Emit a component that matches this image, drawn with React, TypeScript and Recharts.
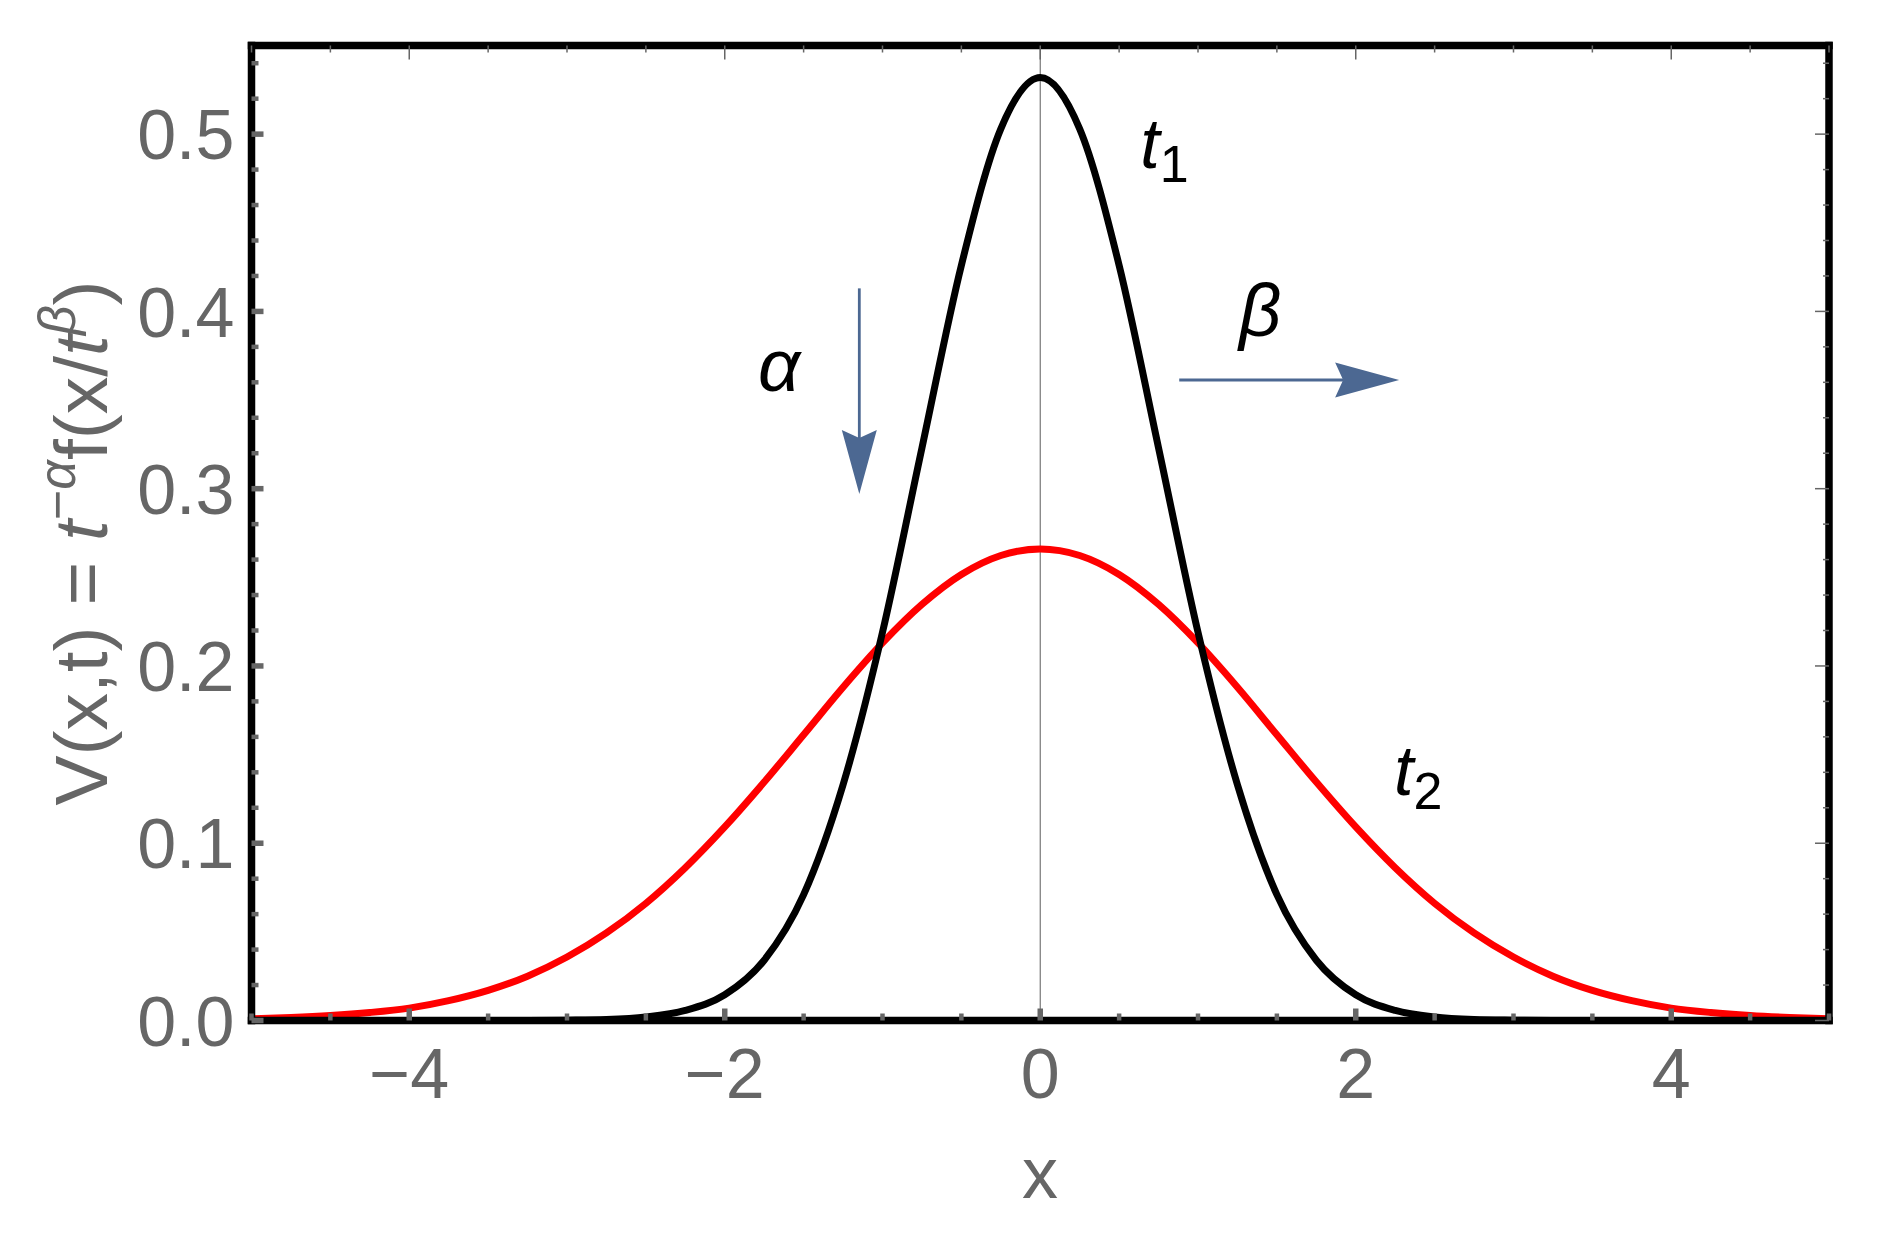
import React from "react";
import { LineChart, Line, XAxis, YAxis, ReferenceLine, ReferenceDot } from "recharts";

// V(x,t) profiles at two times

const xValues = [
  -5, -4.75, -4.5, -4.25, -4, -3.75, -3.5, -3.25, -3, -2.75, -2.5, -2.25, -2, -1.75, -1.5, -1.25, -1, -0.75, -0.5, -0.25,
  0, 0.25, 0.5, 0.75, 1, 1.25, 1.5, 1.75, 2, 2.25, 2.5, 2.75, 3, 3.25, 3.5, 3.75, 4, 4.25, 4.5, 4.75, 5,
];

// t1: narrow, tall profile (black)
const t1Values = [
  0, 0, 0, 0, 0, 0, 0, 0, 0.0002, 0.0006, 0.002, 0.0057, 0.0145, 0.034, 0.071, 0.133, 0.219, 0.323, 0.426, 0.503,
  0.532, 0.503, 0.426, 0.323, 0.219, 0.133, 0.071, 0.034, 0.0145, 0.0057, 0.002, 0.0006, 0.0002, 0, 0, 0, 0, 0, 0, 0, 0,
];

// t2: wider, lower profile (red)
const t2Values = [
  0.001, 0.0017, 0.0028, 0.0045, 0.007, 0.0112, 0.017, 0.025, 0.0358, 0.0494, 0.0661, 0.0862, 0.1092, 0.1345, 0.1612,
  0.188, 0.213, 0.2347, 0.2516, 0.2623, 0.266, 0.2623, 0.2516, 0.2347, 0.213, 0.188, 0.1612, 0.1345, 0.1092, 0.0862,
  0.0661, 0.0494, 0.0358, 0.025, 0.017, 0.0112, 0.007, 0.0045, 0.0028, 0.0017, 0.001,
];

const xTicks = [-5, -4.5, -4, -3.5, -3, -2.5, -2, -1.5, -1, -0.5, 0, 0.5, 1, 1.5, 2, 2.5, 3, 3.5, 4, 4.5, 5];
const xLabelTicks = [-4, -2, 0, 2, 4];
const yTicks = [
  0, 0.02, 0.04, 0.06, 0.08, 0.1, 0.12, 0.14, 0.16, 0.18, 0.2, 0.22, 0.24, 0.26, 0.28, 0.3, 0.32, 0.34, 0.36, 0.38, 0.4,
  0.42, 0.44, 0.46, 0.48, 0.5, 0.52, 0.54,
];
const yLabelTicks = [0, 0.1, 0.2, 0.3, 0.4, 0.5];

const data = xValues.map((x, i) => ({ x, t1: t1Values[i], t2: t2Values[i] }));

const W = 1862;
const H = 1220;
const FONT = "'Liberation Sans', Arial, sans-serif";
const GRAY = "#666666";
const ARROW = "#4c6892";
const FRAME = { stroke: "#000", strokeWidth: 7.5, strokeLinecap: "square" as const, style: { strokeWidth: 7.5 } };

const isMajorX = (v: number) => xLabelTicks.some((t) => Math.abs(t - v) < 1e-9);
const isMajorY = (v: number) => yLabelTicks.some((t) => Math.abs(t - v) < 1e-9);
const fmtX = (v: number) => (v < 0 ? "\u2212" + Math.abs(v) : String(v));

function BottomTick(props: any) {
  const { x, y, payload } = props;
  const major = isMajorX(payload.value);
  return (
    <g>
      <line x1={x} x2={x} y1={y} y2={y - (major ? 12 : 7)} stroke={GRAY} strokeWidth={major ? 5.5 : 4.5} />
      {major && (
        <text x={x} y={y + 77} textAnchor="middle" fontSize={70} fill={GRAY} fontFamily={FONT}>
          {fmtX(payload.value)}
        </text>
      )}
    </g>
  );
}

function TopTick(props: any) {
  const { x, y, payload } = props;
  const major = isMajorX(payload.value);
  return <line x1={x} x2={x} y1={y} y2={y + (major ? 14 : 7)} stroke={GRAY} strokeWidth={1.5} />;
}

function LeftTick(props: any) {
  const { x, y, payload } = props;
  const major = isMajorY(payload.value);
  return (
    <g>
      <line x1={x} x2={x + (major ? 12 : 7)} y1={y} y2={y} stroke={GRAY} strokeWidth={major ? 5.5 : 4.5} />
      {major && (
        <text x={x - 17} y={y} dy="0.36em" textAnchor="end" fontSize={70} fill={GRAY} fontFamily={FONT}>
          {payload.value.toFixed(1)}
        </text>
      )}
    </g>
  );
}

function RightTick(props: any) {
  const { x, y, payload } = props;
  const major = isMajorY(payload.value);
  return <line x1={x} x2={x - (major ? 14 : 6)} y1={y} y2={y} stroke={GRAY} strokeWidth={1.5} />;
}

function YTitle() {
  const cx = 99;
  const cy = 535;
  return (
    <text
      x={cx}
      y={cy}
      transform={`rotate(-90 ${cx} ${cy})`}
      textAnchor="middle"
      fontSize={75}
      fill={GRAY}
      fontFamily={FONT}
    >
      V(x,t) = <tspan fontStyle="italic">t</tspan>
      <tspan fontSize={52} dy={-32}>
        {"\u2212"}
        <tspan fontStyle="italic">α</tspan>
      </tspan>
      <tspan dy={32}>f(x/</tspan>
      <tspan fontStyle="italic">t</tspan>
      <tspan fontSize={52} dy={-32} fontStyle="italic">
        β
      </tspan>
      <tspan dy={32}>)</tspan>
    </text>
  );
}

function XTitle() {
  return (
    <text x={1032} y={1190} textAnchor="middle" fontSize={72} fill={GRAY} fontFamily={FONT}>
      x
    </text>
  );
}

function Arrow(props: any) {
  const { x1, y1, x2, y2 } = props;
  const dx = x2 - x1;
  const dy = y2 - y1;
  const len = Math.hypot(dx, dy) || 1;
  const ux = dx / len;
  const uy = dy / len;
  const px = -uy;
  const py = ux;
  const headLen = 64;
  const half = 17.5;
  const notch = 8;
  const bx = x2 - ux * headLen;
  const by = y2 - uy * headLen;
  const nx = x2 - ux * (headLen - notch);
  const ny = y2 - uy * (headLen - notch);
  const pts = `${x2},${y2} ${bx + px * half},${by + py * half} ${nx},${ny} ${bx - px * half},${by - py * half}`;
  return (
    <g>
      <line x1={x1} y1={y1} x2={nx} y2={ny} stroke={ARROW} strokeWidth={2.8} />
      <polygon points={pts} fill={ARROW} />
    </g>
  );
}

function makeLabel(main: string, sub: string | null, size: number) {
  return (p: any) => (
    <text x={p.cx} y={p.cy} fontSize={size} fontFamily={FONT} fill="#000">
      <tspan fontStyle="italic">{main}</tspan>
      {sub && (
        <tspan fontSize={52} dy={14}>
          {sub}
        </tspan>
      )}
    </text>
  );
}

export default function App() {
  return (
    <LineChart width={W} height={H} data={data} margin={{ top: 27.5, right: 31, bottom: 57.5, left: 0 }}>
      <XAxis
        xAxisId="bottom"
        dataKey="x"
        type="number"
        domain={[-5, 5]}
        allowDataOverflow
        ticks={xTicks}
        interval={0}
        height={150}
        tickSize={0}
        tickMargin={0}
        tick={<BottomTick />}
        axisLine={FRAME}
        label={<XTitle />}
      />
      <XAxis
        xAxisId="top"
        orientation="top"
        dataKey="x"
        type="number"
        domain={[-5, 5]}
        allowDataOverflow
        ticks={xTicks}
        interval={0}
        height={10}
        tickSize={0}
        tickMargin={0}
        tick={<TopTick />}
        axisLine={FRAME}
      />
      <YAxis
        yAxisId="left"
        type="number"
        domain={[0, 0.55]}
        allowDataOverflow
        ticks={yTicks}
        interval={0}
        width={243.5}
        tickSize={0}
        tickMargin={0}
        tick={<LeftTick />}
        axisLine={FRAME}
        label={<YTitle />}
      />
      <YAxis
        yAxisId="right"
        orientation="right"
        type="number"
        domain={[0, 0.55]}
        allowDataOverflow
        ticks={yTicks}
        interval={0}
        width={10}
        tickSize={0}
        tickMargin={0}
        tick={<RightTick />}
        axisLine={FRAME}
      />
      <ReferenceLine xAxisId="bottom" yAxisId="left" x={0} stroke="#777777" strokeWidth={1.2} />
      <Line
        xAxisId="top"
        yAxisId="right"
        type="monotone"
        dataKey="t2"
        stroke="#ff0000"
        strokeWidth={7}
        style={{ strokeWidth: 7 }}
        dot={false}
        isAnimationActive={false}
      />
      <Line
        xAxisId="bottom"
        yAxisId="left"
        type="monotone"
        dataKey="t1"
        stroke="#000000"
        strokeWidth={7}
        style={{ strokeWidth: 7 }}
        dot={false}
        isAnimationActive={false}
      />
      <ReferenceLine
        xAxisId="bottom"
        yAxisId="left"
        segment={[
          { x: -1.147, y: 0.413 },
          { x: -1.147, y: 0.297 },
        ]}
        ifOverflow="visible"
        shape={<Arrow />}
      />
      <ReferenceLine
        xAxisId="bottom"
        yAxisId="left"
        segment={[
          { x: 0.881, y: 0.3613 },
          { x: 2.275, y: 0.3613 },
        ]}
        ifOverflow="visible"
        shape={<Arrow />}
      />
      <ReferenceDot xAxisId="bottom" yAxisId="left" x={0.634} y={0.481} r={0} ifOverflow="visible" shape={makeLabel("t", "1", 70)} />
      <ReferenceDot xAxisId="bottom" yAxisId="left" x={2.243} y={0.1272} r={0} ifOverflow="visible" shape={makeLabel("t", "2", 70)} />
      <ReferenceDot xAxisId="bottom" yAxisId="left" x={-1.79} y={0.3551} r={0} ifOverflow="visible" shape={makeLabel("α", null, 74)} />
      <ReferenceDot xAxisId="bottom" yAxisId="left" x={1.26} y={0.3864} r={0} ifOverflow="visible" shape={makeLabel("β", null, 74)} />
    </LineChart>
  );
}
